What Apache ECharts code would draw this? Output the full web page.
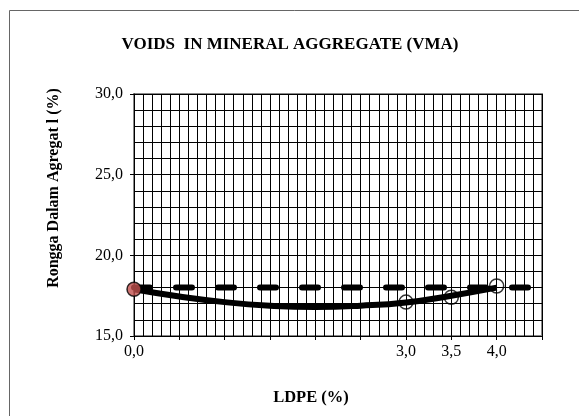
<!DOCTYPE html>
<html>
<head>
<meta charset="utf-8">
<script src="https://cdn.jsdelivr.net/npm/echarts@6/dist/echarts.min.js"></script>
<style>html,body{margin:0;padding:0;background:#fff;}#c{width:579px;height:416px;}</style>
</head>
<body>
<div id="c"></div>
<script>
// Data
var pointX = [0.0, 3.0, 3.5, 4.0];
var pointY = [17.9, 17.1, 17.4, 18.1];
var trendX = [0.0, 0.5, 1.0, 1.5, 2.0, 2.5, 3.0, 3.5, 4.0];
var trendY = [17.9, 17.45, 17.1, 16.88, 16.8, 16.88, 17.08, 17.5, 18.0];
var limitX = [0.0, 4.5];
var limitY = [18.0, 18.0];
var xLabelsShown = [0, 3, 3.5, 4];
var titleText = 'VOIDS  IN MINERAL AGGREGATE (VMA)';
var xName = 'LDPE (%)';
var yName = 'Rongga Dalam Agregat l (%)';

function fmt(v) { return v.toFixed(1).replace('.', ','); }
function zip(a, b) { return a.map(function (v, i) { return [v, b[i]]; }); }

var chart = echarts.init(document.getElementById('c'));
var serif = '"Liberation Serif", "Times New Roman", serif';
var pts = zip(pointX, pointY).map(function (p, i) {
  return i === 0 ? { value: p, itemStyle: { color: '#c0504d' } } : { value: p };
});
chart.setOption({
  animation: false,
  backgroundColor: '#fff',
  grid: { left: 134, right: 37, top: 94, bottom: 80, show: true, borderColor: '#888', borderWidth: 2, backgroundColor: 'transparent' },
  graphic: [
    { type: 'rect', shape: { x: 9.5, y: 10.5, width: 600, height: 500 }, style: { fill: 'none', stroke: '#666', lineWidth: 1 }, silent: true, z: -10 },
    { type: 'text', x: 290, y: 45, style: { text: titleText, font: 'bold 17px ' + serif, fill: '#000', textAlign: 'center', textVerticalAlign: 'middle' } },
    { type: 'text', x: 311, y: 398, style: { text: xName, font: 'bold 16.5px ' + serif, fill: '#000', textAlign: 'center', textVerticalAlign: 'middle' } },
    { type: 'text', x: 54, y: 188, rotation: Math.PI / 2, style: { text: yName, font: 'bold 16px ' + serif, fill: '#000', textAlign: 'center', textVerticalAlign: 'middle' } }
  ],
  xAxis: {
    type: 'value', min: 0, max: 4.5, interval: 0.5,
    axisLine: { show: true, onZero: false, lineStyle: { color: '#000', width: 1 } },
    axisTick: { show: true, length: 4, lineStyle: { color: '#000' } },
    minorTick: { show: false, splitNumber: 5 },
    splitLine: { show: true, lineStyle: { color: '#000', width: 1 } },
    minorSplitLine: { show: true, lineStyle: { color: '#000', width: 1 } },
    axisLabel: {
      margin: 8, color: '#000', fontFamily: serif, fontSize: 16,
      formatter: function (v) {
        for (var i = 0; i < xLabelsShown.length; i++) if (Math.abs(v - xLabelsShown[i]) < 1e-6) return fmt(v);
        return '';
      }
    }
  },
  yAxis: {
    type: 'value', min: 15, max: 30, interval: 5,
    axisLine: { show: true, onZero: false, lineStyle: { color: '#000', width: 1 } },
    axisTick: { show: true, length: 4, lineStyle: { color: '#000' } },
    minorTick: { show: false, splitNumber: 5 },
    splitLine: { show: true, lineStyle: { color: '#000', width: 1 } },
    minorSplitLine: { show: true, lineStyle: { color: '#000', width: 1 } },
    axisLabel: { margin: 11, color: '#000', fontFamily: serif, fontSize: 16, formatter: function (v) { return fmt(v); } }
  },
  series: [
    {
      type: 'line', data: zip(limitX, limitY), symbol: 'none', z: 3,
      lineStyle: { color: '#000', width: 6, type: [16, 26], cap: 'round' }
    },
    {
      type: 'line', data: zip(trendX, trendY), smooth: 0.5, symbol: 'none', z: 4,
      lineStyle: { color: '#000', width: 6 }
    },
    {
      type: 'scatter', data: pts, symbol: 'circle', symbolSize: 14, clip: false, z: 5,
      itemStyle: { color: 'rgba(255,255,255,0)', borderColor: '#000', borderWidth: 1.5 }
    }
  ]
});
</script>
</body>
</html>
